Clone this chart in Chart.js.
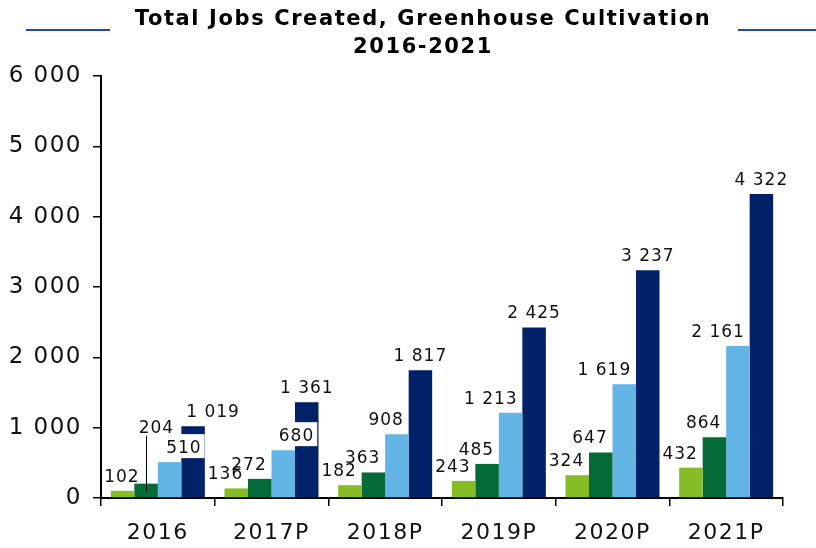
<!DOCTYPE html>
<html>
<head>
<meta charset="utf-8">
<title>Total Jobs Created, Greenhouse Cultivation</title>
<script src="https://cdn.jsdelivr.net/npm/chart.js@4.4.1/dist/chart.umd.min.js"></script>
<style>
  html, body { margin: 0; padding: 0; background: #fff; }
  #wrap { width: 816px; height: 548px; }
</style>
</head>
<body>
<div id="wrap"><canvas id="jobsChart" width="816" height="548"></canvas></div>
<script>
const years = ['2016', '2017P', '2018P', '2019P', '2020P', '2021P'];
const jobsLow = [102, 136, 182, 243, 324, 432];
const jobsMidLow = [204, 272, 363, 485, 647, 864];
const jobsMidHigh = [510, 680, 908, 1213, 1619, 2161];
const jobsHigh = [1019, 1361, 1817, 2425, 3237, 4322];
const yMax = 6000;
const yStep = 1000;

const barColors = ['#86bc25', '#046a38', '#62b5e5', '#012169'];
const titleLines = ['Total Jobs Created, Greenhouse Cultivation', '2016-2021'];

// labels that were dragged off their bars (2016 / 2017P)
const labelNudges = [
  { ds: 0, i: 0, dx: 10, dy: 0 },
  { ds: 1, i: 0, dx: 21, dy: -42, leader: true },
  { ds: 2, i: 0, dx: 25, dy: 0, box: true },
  { ds: 3, i: 0, dx: 20, dy: 0 },
  { ds: 2, i: 1, dx: 24, dy: 0, box: true }
];

function spaced(n) {
  return String(n).replace(/\B(?=(\d{3})+(?!\d))/g, ' ');
}

const barValues = {
  id: 'barValues',
  afterDatasetsDraw(chart) {
    const ctx = chart.ctx;
    ctx.save();
    ctx.font = '17px "DejaVu Sans"';
    ctx.letterSpacing = '1px';
    ctx.textAlign = 'left';
    ctx.textBaseline = 'alphabetic';
    chart.data.datasets.forEach((ds, di) => {
      chart.getDatasetMeta(di).data.forEach((bar, i) => {
        const nudge = labelNudges.find(n => n.ds === di && n.i === i) || { dx: 0, dy: 0 };
        const text = spaced(ds.data[i]);
        const w = ctx.measureText(text).width;
        // the three smaller series sit right-aligned just past the bar centre
        const right = (di < 3 ? bar.x + 7 : bar.x + w / 2) + nudge.dx;
        const base = bar.y - 9 + nudge.dy;
        if (nudge.box) {
          ctx.fillStyle = '#fff';
          ctx.fillRect(right - w - 3, base - 19, w + 6, 24);
        }
        ctx.fillStyle = '#111';
        ctx.fillText(text, right - w, base);
        if (nudge.leader) {
          ctx.strokeStyle = '#000';
          ctx.lineWidth = 1;
          ctx.beginPath();
          ctx.moveTo(Math.round(bar.x) + 0.5, base + 3);
          ctx.lineTo(Math.round(bar.x) + 0.5, bar.y + 8);
          ctx.stroke();
        }
      });
    });
    ctx.restore();
  }
};

const heading = {
  id: 'heading',
  beforeDraw(chart) {
    chart.ctx.letterSpacing = '1.5px';
  },
  afterDraw(chart) {
    const ctx = chart.ctx;
    ctx.save();
    ctx.letterSpacing = '1.6px';
    ctx.font = 'bold 21px "DejaVu Sans"';
    ctx.fillStyle = '#000';
    ctx.textAlign = 'center';
    ctx.textBaseline = 'alphabetic';
    ctx.fillText(titleLines[0], 423, 25);
    ctx.fillText(titleLines[1], 423, 53);
    ctx.strokeStyle = '#1f4ea3';
    ctx.lineWidth = 2;
    ctx.beginPath();
    ctx.moveTo(26, 30);
    ctx.lineTo(110, 30);
    ctx.moveTo(738, 30);
    ctx.lineTo(816, 30);
    ctx.stroke();
    ctx.restore();
  }
};

const seriesData = [jobsLow, jobsMidLow, jobsMidHigh, jobsHigh];

const config = {
  type: 'bar',
  data: {
    labels: years,
    datasets: seriesData.map((vals, k) => ({
      label: 'Series ' + (k + 1),
      data: vals,
      backgroundColor: barColors[k],
      borderWidth: 0,
      categoryPercentage: 0.827,
      barPercentage: 1
    }))
  },
  options: {
    responsive: false,
    animation: false,
    layout: { padding: { top: 76, right: 33, left: 0, bottom: 0 } },
    plugins: {
      legend: { display: false },
      title: { display: false },
      tooltip: { enabled: false }
    },
    scales: {
      x: {
        afterFit(s) { s.height = 50; },
        grid: {
          offset: true,
          drawOnChartArea: false,
          drawTicks: true,
          tickLength: 8,
          tickColor: '#000',
          lineWidth: 1.5
        },
        border: { color: '#000', width: 2 },
        ticks: {
          color: '#111',
          font: { family: 'DejaVu Sans', size: 22 },
          padding: 14,
          maxRotation: 0
        }
      },
      y: {
        min: 0,
        max: yMax,
        afterFit(s) { s.width = 101; },
        grid: {
          drawOnChartArea: false,
          drawTicks: true,
          tickLength: 8,
          tickColor: '#000',
          lineWidth: 1.5
        },
        border: { color: '#000', width: 2 },
        ticks: {
          stepSize: yStep,
          color: '#111',
          font: { family: 'DejaVu Sans', size: 23 },
          padding: 11,
          callback: v => spaced(v)
        }
      }
    }
  },
  plugins: [heading, barValues]
};

window.onload = function() {
  const ctx = document.getElementById('jobsChart').getContext('2d');
  new Chart(ctx, config);
};
</script>
</body>
</html>
